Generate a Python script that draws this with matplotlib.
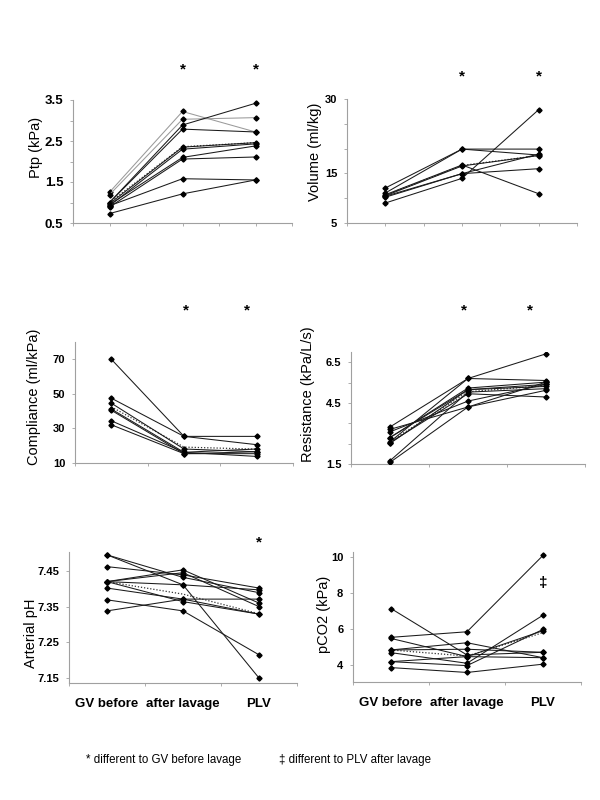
import matplotlib.pyplot as plt
import numpy as np

plt.rcParams['font.family'] = ['Liberation Sans', 'DejaVu Sans']

stages = ['GV before', 'after lavage', 'PLV']

# one row per animal: GV before, after lavage, PLV
ptp = [[1.25, 3.22, 2.72],
       [1.19, 3.03, 3.07],
       [1.00, 2.89, 3.42],
       [1.00, 2.79, 2.72],
       [0.97, 2.35, 2.46],
       [0.92, 2.30, 2.43],
       [0.95, 2.10, 2.38],
       [0.89, 2.06, 2.11],
       [0.92, 1.58, 1.55],
       [0.73, 1.21, 1.55]]
ptp_mean = [1.00, 2.36, 2.46]

volume = [[12.06, 19.9, 19.9],
          [11.05, 19.9, 18.7],
          [10.7, 16.7, 10.9],
          [9.03, 14.0, 27.85],
          [10.4, 14.95, 15.95],
          [10.2, 14.95, 18.9],
          [10.5, 16.5, 18.6]]
volume_mean = [10.6, 16.6, 18.6]

compliance = [[70.0, 25.4, 20.6],
              [47.5, 25.4, 25.4],
              [44.6, 18.1, 16.5],
              [41.2, 16.2, 18.1],
              [40.5, 15.4, 15.4],
              [34.4, 16.2, 13.8],
              [32.1, 15.4, 16.5]]
compliance_mean = [42.5, 19.2, 18.0]

resistance = [[2.59, 5.70, 6.91],
              [3.32, 5.70, 5.60],
              [3.08, 4.59, 5.41],
              [2.80, 5.23, 5.52],
              [2.51, 5.15, 5.31],
              [1.66, 5.03, 5.20],
              [1.58, 4.30, 5.12],
              [2.55, 4.95, 4.79],
              [3.20, 4.30, 5.52],
              [2.80, 5.15, 5.41]]
resistance_mean = [2.6, 5.05, 5.35]

ph = [[7.495, 7.411, 7.150],
      [7.495, 7.432, 7.389],
      [7.462, 7.439, 7.402],
      [7.420, 7.453, 7.360],
      [7.420, 7.411, 7.397],
      [7.420, 7.445, 7.350],
      [7.402, 7.371, 7.329],
      [7.369, 7.338, 7.215],
      [7.338, 7.371, 7.371],
      [7.420, 7.364, 7.329]]
ph_mean = [7.42, 7.385, 7.33]

pco2 = [[7.14, 4.56, 4.71],
        [5.54, 5.85, 10.09],
        [5.48, 4.47, 5.91],
        [4.84, 5.24, 4.41],
        [4.84, 4.88, 4.71],
        [4.69, 4.10, 6.77],
        [4.19, 4.47, 4.41],
        [3.86, 3.59, 4.05],
        [4.19, 3.97, 5.98]]
pco2_mean = [4.84, 4.5, 5.8]

ptp_ticks = [0.5, 1.0, 1.5, 2.0, 2.5, 3.0, 3.5]
ptp_labels = ['0.5', '', '1.5', '', '2.5', '', '3.5']
volume_ticks = [5, 10, 15, 20, 25, 30]
volume_labels = ['5', '', '15', '', '', '30']
compliance_ticks = [10, 30, 50, 70]
compliance_labels = ['10', '30', '50', '70']
resistance_ticks = [1.5, 2.5, 3.5, 4.5, 5.5, 6.5]
resistance_labels = ['1.5', '', '', '4.5', '', '6.5']
ph_ticks = [7.15, 7.25, 7.35, 7.45]
ph_labels = ['7.15', '7.25', '7.35', '7.45']
pco2_ticks = [4, 6, 8, 10]
pco2_labels = ['4', '6', '8', '10']

W, H = 600, 800
AX_GREY = '#a0a0a0'


def px_box(l, t, r, b):
  return [l / W, 1 - b / H, (r - l) / W, (b - t) / H]


panels = [
  dict(data=ptp, mean=ptp_mean, ylabel='Ptp (kPa)', ylim=(0.5, 3.5),
       ticks=ptp_ticks, labels=ptp_labels, box=(73, 100, 292, 223),
       tick_size=9.5, cat_ticks=True, grey=[0, 1], lab=(35, 147),
       marks=[('*', 2.0, 1.25), ('*', 3.0, 1.25)]),
  dict(data=volume, mean=volume_mean, ylabel='Volume (ml/kg)', ylim=(5, 30),
       ticks=volume_ticks, labels=volume_labels, box=(347, 99, 577, 223),
       tick_size=8, cat_ticks=True, grey=[], lab=(314, 152),
       marks=[('*', 2.0, 1.18), ('*', 3.0, 1.18)]),
  dict(data=compliance, mean=compliance_mean, ylabel='Compliance (ml/kPa)',
       ylim=(10, 80), ticks=compliance_ticks, labels=compliance_labels,
       box=(75, 342, 293, 463), tick_size=8, cat_ticks=False, grey=[],
       lab=(33, 397), marks=[('*', 2.03, 1.26), ('*', 2.87, 1.26)]),
  dict(data=resistance, mean=resistance_mean, ylabel='Resistance (kPa/L/s)',
       ylim=(1.5, 7.0), ticks=resistance_ticks, labels=resistance_labels,
       box=(351, 352, 585, 464), tick_size=8, cat_ticks=False, grey=[],
       lab=(307, 394), marks=[('*', 1.95, 1.37), ('*', 2.8, 1.37)]),
  dict(data=ph, mean=ph_mean, ylabel='Arterial pH', ylim=(7.136, 7.503),
       ticks=ph_ticks, labels=ph_labels, box=(69, 552, 297, 683),
       tick_size=8, cat_ticks=False, grey=[], lab=(30, 633),
       marks=[('*', 3.0, 1.07)]),
  dict(data=pco2, mean=pco2_mean, ylabel='pCO2 (kPa)', ylim=(3.06, 10.28),
       ticks=pco2_ticks, labels=pco2_labels, box=(353, 552, 581, 682),
       tick_size=8, cat_ticks=False, grey=[], lab=(323, 614),
       marks=[('\u2021', 3.0, 0.76)]),
]

fig = plt.figure(figsize=(W / 100, H / 100), dpi=100)
x = np.arange(1, len(stages) + 1)

for i, p in enumerate(panels):
  ax = fig.add_axes(px_box(*p['box']))
  vals = np.array(p['data'])
  for k, row in enumerate(vals):
    col = '#9a9a9a' if k in p['grey'] else '#1a1a1a'
    ax.plot(x, row, color=col, lw=0.75, marker='D', ms=2.6,
            mfc='black', mec='black', zorder=3)
  ax.plot(x, p['mean'], color='#333333', lw=0.9, ls=(0, (1, 1.5)), zorder=2)

  ax.set_xlim(0.5, 3.5)
  ax.set_ylim(*p['ylim'])
  ax.set_xticks([0.5, 1.5, 2.5, 3.5])
  ax.set_xticklabels([])
  ax.set_xticks(x, minor=True)
  if i >= 4:
    ax.set_xticklabels(stages, minor=True, fontsize=9.5, fontweight='bold')
  ax.tick_params(axis='x', which='minor', length=2.5 if p['cat_ticks'] else 0,
                 pad=11, color=AX_GREY, width=0.6)
  ax.tick_params(axis='x', which='major', length=2.5, color=AX_GREY,
                 width=0.6)
  ax.set_yticks(p['ticks'])
  ax.set_yticklabels(p['labels'], fontsize=p['tick_size'], fontweight='bold')
  ax.tick_params(axis='y', length=2.5, pad=4.5, color=AX_GREY, width=0.6)

  for side in ['top', 'right']:
    ax.spines[side].set_visible(False)
  for side in ['left', 'bottom']:
    ax.spines[side].set_color(AX_GREY)
    ax.spines[side].set_linewidth(0.8)

  ax.set_ylabel(p['ylabel'], fontsize=10.5)
  l, t, r, b = p['box']
  lx, ly = p['lab']
  ax.yaxis.set_label_coords((lx + 8 - l) / (r - l), (b - ly) / (b - t))

  for sym, mx, my in p['marks']:
    ax.text(mx, my, sym, transform=ax.get_xaxis_transform(), ha='center',
            va='center', fontsize=11, fontweight='bold', clip_on=False)

fig.text(86 / W, 1 - 760 / H, '* different to GV before lavage',
         fontsize=8.3, va='center', ha='left')
fig.text(279 / W, 1 - 760 / H, '\u2021 different to PLV after lavage',
         fontsize=8.3, va='center', ha='left')

fig.savefig('out.png', dpi=100)
